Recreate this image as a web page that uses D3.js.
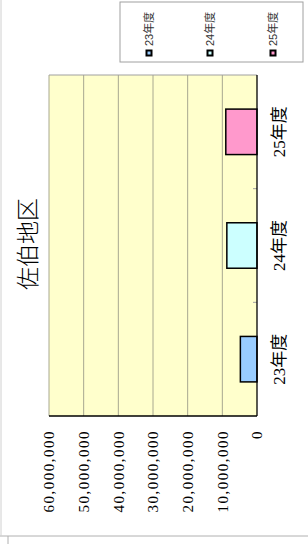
<!DOCTYPE html>
<html lang="ja">
<head>
<meta charset="UTF-8">
<title>佐伯地区</title>
<script src="https://cdn.jsdelivr.net/npm/d3@7"></script>
<style>
body{margin:0;background:#fff;}
</style>
</head>
<body>
<script>
// data
var categories = ["23年度","24年度","25年度"];
var values = [4800000, 8700000, 9000000];
var colors = ["#99CCFF","#CCFFFF","#FF99CC"];
var tickValues = [0,10000000,20000000,30000000,40000000,50000000,60000000];
var title = "佐伯地区";

// the chart is drawn landscape (544x308) and turned a quarter to the left
var W = 544, H = 308;
var svg = d3.select("body").append("svg").attr("width",H).attr("height",W);
var g = svg.append("g").attr("transform","translate(0,"+W+") rotate(-90)");

// outer frame lines
g.append("line").attr("x1",8).attr("y1",0).attr("x2",8).attr("y2",H).attr("stroke","#b0b0b0");
g.append("line").attr("x1",8).attr("y1",1).attr("x2",W).attr("y2",1).attr("stroke","#d0d0d0");
g.append("line").attr("x1",0).attr("y1",8).attr("x2",8).attr("y2",8).attr("stroke","#b0b0b0");

var plot = {left:128,right:469,top:49,bottom:257};

var x = d3.scaleBand().domain(categories).range([plot.left,plot.right]).padding(0);
var y = d3.scaleLinear().domain([0,60000000]).range([plot.bottom,plot.top]);

// plot background
g.append("rect").attr("x",plot.left).attr("y",plot.top)
	.attr("width",plot.right-plot.left).attr("height",plot.bottom-plot.top)
	.attr("fill","#FFFFCC");

// gridlines
g.selectAll(".grid").data(tickValues.slice(1)).enter().append("line")
	.attr("x1",plot.left).attr("x2",plot.right)
	.attr("y1",function(d){return y(d);}).attr("y2",function(d){return y(d);})
	.attr("stroke","#a8a890").attr("stroke-width",1);

// right border
g.append("line").attr("x1",plot.right).attr("x2",plot.right).attr("y1",plot.top).attr("y2",plot.bottom)
	.attr("stroke","#a0a0a0");

// category ticks between bands
g.selectAll(".ctick").data(categories.slice(1)).enter().append("line")
	.attr("x1",function(d){return x(d);}).attr("x2",function(d){return x(d);})
	.attr("y1",plot.bottom).attr("y2",plot.bottom-4)
	.attr("stroke","#a0a0a0");

// bars
var bw = x.bandwidth()*0.4;
g.selectAll(".bar").data(values).enter().append("rect")
	.attr("x",function(d,i){return x(categories[i])+x.bandwidth()/2-bw/2;})
	.attr("y",function(d){return y(d);})
	.attr("width",bw)
	.attr("height",function(d){return y(0)-y(d);})
	.attr("fill",function(d,i){return colors[i];})
	.attr("stroke","#000").attr("stroke-width",1.5);

// axes lines
g.append("line").attr("x1",plot.left).attr("x2",plot.right).attr("y1",plot.bottom).attr("y2",plot.bottom)
	.attr("stroke","#000").attr("stroke-width",1.3);
g.append("line").attr("x1",plot.left).attr("x2",plot.left).attr("y1",plot.top).attr("y2",plot.bottom)
	.attr("stroke","#000").attr("stroke-width",1.3);

// value axis labels
var yAxis = d3.axisLeft(y).tickValues(tickValues).tickFormat(d3.format(",")).tickSize(0).tickPadding(14);
var ya = g.append("g").attr("transform","translate("+plot.left+",0)").call(yAxis);
ya.select(".domain").remove();
ya.selectAll("text").attr("font-family","'Liberation Serif','DejaVu Serif',serif")
	.attr("font-size",15).attr("letter-spacing",1.5).attr("fill","#000");

// category labels
g.selectAll(".clabel").data(categories).enter().append("text")
	.attr("x",function(d){return x(d)+x.bandwidth()/2;})
	.attr("y",285)
	.attr("text-anchor","middle")
	.attr("font-family","'Liberation Serif','Noto Sans CJK JP',serif")
	.attr("font-size",17)
	.text(function(d){return d;});

// title
g.append("text").attr("x",300).attr("y",36).attr("text-anchor","middle")
	.attr("font-family","'Noto Sans CJK JP',sans-serif").attr("font-size",23)
	.attr("font-weight",300)
	.text(title);

// legend
g.append("rect").attr("x",482).attr("y",120).attr("width",60).attr("height",183)
	.attr("fill","#fff").attr("stroke","#a0a0a0");
var ly = [149,210,273];
var leg = g.selectAll(".leg").data(categories).enter().append("g")
	.attr("transform",function(d,i){return "translate(491,"+ly[i]+")";});
leg.append("rect").attr("x",-2.5).attr("y",-2.5).attr("width",5).attr("height",5)
	.attr("fill",function(d,i){return colors[i];}).attr("stroke","#000").attr("stroke-width",2);
leg.append("text").attr("x",7).attr("y",0).attr("dy","0.35em")
	.attr("font-family","'Liberation Sans','Noto Sans CJK JP',sans-serif").attr("font-size",11)
	.attr("fill","#333")
	.text(function(d){return d;});
</script>
</body>
</html>
